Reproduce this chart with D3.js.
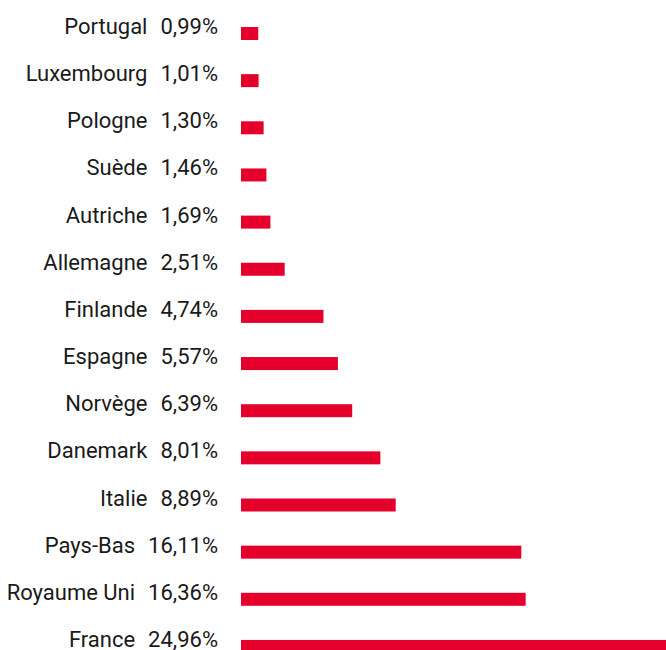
<!DOCTYPE html>
<html>
<head>
<meta charset="utf-8">
<script src="https://cdn.jsdelivr.net/npm/d3@7"></script>
<style>
  html, body { margin: 0; padding: 0; background: #fff; }
  svg { display: block; }
</style>
</head>
<body>
<div id="chart"></div>
<script>
// Data
const countries = ["Portugal", "Luxembourg", "Pologne", "Suède", "Autriche", "Allemagne", "Finlande",
  "Espagne", "Norvège", "Danemark", "Italie", "Pays-Bas", "Royaume Uni", "France"];
const shares = [0.99, 1.01, 1.30, 1.46, 1.69, 2.51, 4.74, 5.57, 6.39, 8.01, 8.89, 16.11, 16.36, 24.96];
const shareLabels = ["0,99%", "1,01%", "1,30%", "1,46%", "1,69%", "2,51%", "4,74%", "5,57%", "6,39%",
  "8,01%", "8,89%", "16,11%", "16,36%", "24,96%"];

const rows = countries.map((c, i) => ({ name: c, value: shares[i], label: shareLabels[i] }));

const W = 666, H = 650;
const barLeft = 241;
const barH = 13;

const svg = d3.select("#chart").append("svg")
    .attr("width", W)
    .attr("height", H);

// scales
const x = d3.scaleLinear()
    .domain([0, 25])
    .range([0, 435]);

const y = d3.scalePoint()
    .domain(countries)
    .range([33.5, 33.5 + 13 * 47.15]);

// bars
svg.selectAll(".bar")
    .data(rows)
    .enter()
    .append("rect")
    .attr("class", "bar")
    .attr("x", barLeft)
    .attr("y", d => y(d.name) - barH / 2)
    .attr("width", d => x(d.value))
    .attr("height", barH)
    .attr("fill", "#e4002b");

// labels: name + value, right aligned
const labels = svg.selectAll(".label")
    .data(rows)
    .enter()
    .append("text")
    .attr("class", "label")
    .attr("x", 218)
    .attr("y", d => y(d.name) + 0.5)
    .attr("text-anchor", "end")
    .attr("font-family", "Roboto, sans-serif")
    .attr("font-size", "22px")
    .attr("fill", "#1a1a1a");

labels.append("tspan").text(d => d.name);
labels.append("tspan").attr("dx", 13).text(d => d.label);
</script>
</body>
</html>
